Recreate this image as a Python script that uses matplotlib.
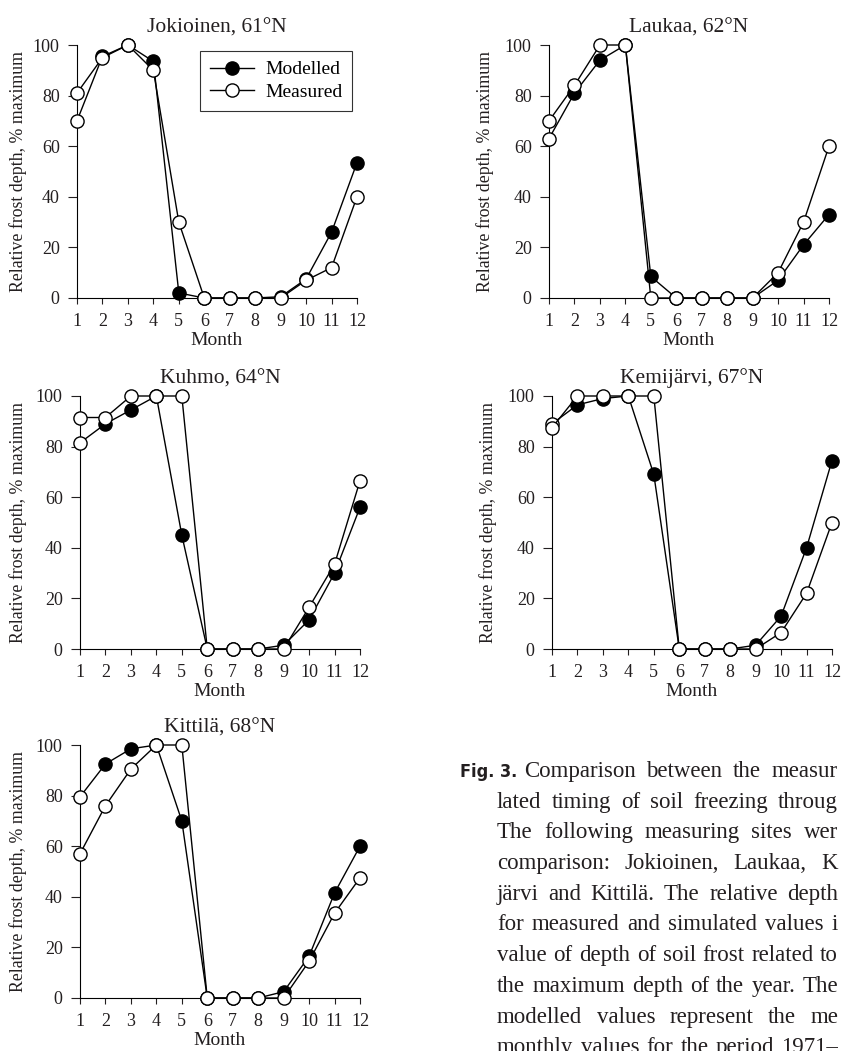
import matplotlib
matplotlib.use('Agg')
import matplotlib.pyplot as plt
import numpy as np

plt.rcParams['font.family'] = ['Liberation Serif', 'DejaVu Serif']
plt.rcParams['font.size'] = 13

ink = '#231f20'

months = np.arange(1, 13)

sites = ['Jokioinen, 61°N', 'Laukaa, 62°N', 'Kuhmo, 64°N', 'Kemijärvi, 67°N', 'Kittilä, 68°N']

modelled_jokioinen = [70, 95.5, 100, 93.5, 2, 0, 0, 0, 0.5, 7.5, 26, 53.5]
measured_jokioinen = [81, 95, 100, 90, 30, 0, 0, 0, 0, 7, 12, 40]

modelled_laukaa = [63, 81, 94, 100, 8.5, 0, 0, 0, 0, 7, 21, 33]
measured_laukaa = [70, 84, 100, 100, 0, 0, 0, 0, 0, 10, 30, 60]

modelled_kuhmo = [81.5, 89, 94.5, 100, 45, 0, 0, 0, 1.5, 11.5, 30, 56]
measured_kuhmo = [91.5, 91.5, 100, 100, 100, 0, 0, 0, 0, 16.5, 33.5, 66.5]

modelled_kemijarvi = [89, 96.5, 99, 100, 69, 0, 0, 0, 1.5, 13, 40, 74.5]
measured_kemijarvi = [87.5, 100, 100, 100, 100, 0, 0, 0, 0, 6.5, 22, 50]

modelled_kittila = [79.5, 92.5, 98.5, 100, 70, 0, 0, 0, 2.5, 16.5, 41.5, 60]
measured_kittila = [57, 76, 90.5, 100, 100, 0, 0, 0, 0, 14.5, 33.5, 47.5]

modelled = [modelled_jokioinen, modelled_laukaa, modelled_kuhmo, modelled_kemijarvi, modelled_kittila]
measured = [measured_jokioinen, measured_laukaa, measured_kuhmo, measured_kemijarvi, measured_kittila]

# caption as far as it is visible in the page crop
caption_lines = [
    'Comparison between the measur',
    'lated timing of soil freezing throug',
    'The following measuring sites wer',
    'comparison: Jokioinen, Laukaa, K',
    'järvi and Kittilä. The relative depth',
    'for measured and simulated values i',
    'value of depth of soil frost related to',
    'the maximum depth of the year. The',
    'modelled values represent the me',
    'monthly values for the period 1971–',
]

W, H = 841, 1051
fig = plt.figure(figsize=(W / 100, H / 100), dpi=100)

# axes boxes in pixels: x of month 1, y of 100 %, plus y-label offset
boxes = [(77, 45, -0.18), (549, 45, -0.197), (80, 396, -0.19), (552, 396, -0.197), (80, 745, -0.19)]
ax_w, ax_h = 280, 253

for i, (x0, ytop, lab_x) in enumerate(boxes):
    ax = fig.add_axes([x0 / W, 1 - (ytop + ax_h) / H, ax_w / W, ax_h / H])
    ax.plot(months, modelled[i], color='black', lw=1, marker='o', ms=9.5,
            mfc='black', mec='black', mew=1, markevery=list(range(1, 12)),
            clip_on=False, zorder=3, label='Modelled')
    ax.plot(months[:1], modelled[i][:1], ls='none', marker='o', ms=9.5,
            mfc='white', mec='black', mew=1, clip_on=False, zorder=3)
    ax.plot(months, measured[i], color='black', lw=1, marker='o', ms=9.5,
            mfc='white', mec='black', mew=1, clip_on=False, zorder=4, label='Measured')
    ax.set_xlim(1, 12)
    ax.set_ylim(0, 100)
    ax.set_xticks(months)
    ax.set_yticks([0, 20, 40, 60, 80, 100])
    ax.spines['top'].set_visible(False)
    ax.spines['right'].set_visible(False)
    ax.tick_params(axis='y', direction='out', length=6.5, width=0.8, pad=6, labelsize=13, colors=ink)
    ax.tick_params(axis='x', direction='out', length=4, width=0.8, pad=7, labelsize=13, colors=ink)
    ax.set_title(sites[i], fontsize=15.5, pad=9, color=ink)
    ax.set_ylabel('Relative frost depth, % maximum', fontsize=12.8, color=ink)
    ax.yaxis.set_label_coords(lab_x, 0.5)
    ax.set_xlabel('Month', fontsize=14, color=ink, labelpad=1.5)
    if i == 0:
        leg = ax.legend(loc='upper left', bbox_to_anchor=(0.439, 0.976), borderaxespad=0,
                        fontsize=14, frameon=True, fancybox=False, edgecolor='black',
                        handlelength=2.3, handletextpad=0.55, labelspacing=0.25, borderpad=0.5)
        leg.get_frame().set_linewidth(0.8)

# caption, justified word by word
fig.text(460 / W, 1 - 777 / H, 'Fig. 3.', family='DejaVu Sans', stretch='condensed',
         weight='bold', fontsize=13, color=ink, va='baseline', ha='left')
renderer = fig.canvas.get_renderer()
x_end = 838
for k, line in enumerate(caption_lines):
    x = 524 if k == 0 else 497
    y = 777 + k * 30.7
    words = [fig.text(0, 0, w, fontsize=16.5, color=ink, va='baseline', ha='left')
             for w in line.split(' ')]
    widths = [t.get_window_extent(renderer).width for t in words]
    gap = max((x_end - x - sum(widths)) / (len(words) - 1), 3)
    for t, wd in zip(words, widths):
        t.set_position((x / W, 1 - y / H))
        x += wd + gap

fig.savefig('out.png', dpi=100)
